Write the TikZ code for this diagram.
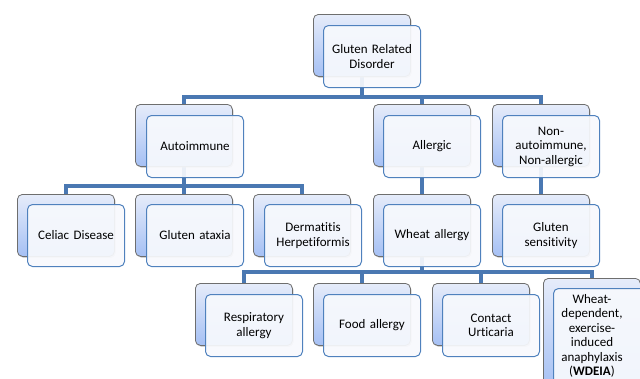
\documentclass[tikz,border=0pt]{standalone}
\usepackage{fontspec}
\setmainfont{Carlito}[Ligatures=NoCommon]
\usetikzlibrary{shadows,backgrounds}
\definecolor{connc}{HTML}{4A78B2}
\definecolor{frontb}{HTML}{4F81BD}
\definecolor{frontf}{HTML}{F7F9FD}
\definecolor{backb}{HTML}{6E6E6E}
\definecolor{backtop}{HTML}{E6ECFA}
\definecolor{backbot}{HTML}{A5C0F4}
\tikzset{
  backbox/.style={draw=backb, line width=0.8pt, rounded corners=5pt,
    top color=backtop, bottom color=backbot,
    minimum width=97pt, minimum height=62pt, anchor=north west, inner sep=0pt,
    drop shadow={shadow xshift=1.2pt, shadow yshift=-1.5pt, opacity=0.35}},
  frontbox/.style={draw=frontb, line width=1pt, rounded corners=5pt,
    fill=frontf, fill opacity=0.93, text opacity=1,
    minimum width=97pt, minimum height=62pt, anchor=north west, inner sep=0pt,
    align=center, text width=94pt, font=\fontsize{13}{14.5}\selectfont},
  conn/.style={draw=connc, line width=4pt},
}
\begin{document}
\begin{tikzpicture}[x=1pt,y=-1pt]
\useasboundingbox (0,0) rectangle (640,378);
\clip (0,0) rectangle (640,378);
\coordinate (b1) at (0,97);
\coordinate (b2) at (0,186);
\coordinate (b3) at (0,272);
% level 0
\node[backbox] (gb) at (313,14) {};
\node[frontbox] (g) at (323,25) {Gluten Related\\Disorder};
% level 1
\node[backbox] (ab) at (135,104) {};
\node[frontbox] (a) at (146,115) {Autoimmune};
\node[backbox] (alb) at (373,104) {};
\node[frontbox] (al) at (383,115) {Allergic};
\node[backbox] (nb) at (492,104) {};
\node[frontbox] (n) at (502,115) {Non-\\autoimmune,\\Non-allergic};
% level 2
\node[backbox] (cb) at (17,194) {};
\node[frontbox] (c) at (27,204) {Celiac Disease};
\node[backbox] (tb) at (135,194) {};
\node[frontbox] (t) at (146,204) {Gluten ataxia};
\node[backbox] (db) at (253,194) {};
\node[frontbox] (d) at (264,204) {Dermatitis\\Herpetiformis};
\node[backbox] (wb) at (373,194) {};
\node[frontbox] (w) at (383,204) {Wheat allergy};
\node[backbox] (sb) at (492,194) {};
\node[frontbox] (s) at (502,204) {Gluten\\sensitivity};
% level 3
\node[backbox] (rb) at (195,283) {};
\node[frontbox] (r) at (205,294) {Respiratory\\allergy};
\node[backbox] (fb) at (313,283) {};
\node[frontbox] (f) at (323,294) {Food allergy};
\node[backbox] (ub) at (432,283) {};
\node[frontbox] (u) at (442,294) {Contact\\Urticaria};
\node[backbox, minimum height=110pt] (xb) at (543,278) {};
\node[frontbox, minimum height=110pt] (x) at (553,288) {};
\node[align=center, font=\fontsize{13}{14.4}\selectfont, anchor=north] (xt) at (592,291)
  {Wheat-\\dependent,\\exercise-\\induced\\anaphylaxis\\(\textbf{WDEIA})};
% connectors
\begin{scope}[on background layer]
\draw[conn] (gb.south) -- (gb.south |- b1) -| (ab.north);
\draw[conn] (gb.south) -- (gb.south |- b1) -| (alb.north);
\draw[conn] (gb.south) -- (gb.south |- b1) -| (nb.north);
\draw[conn] (ab.south) -- (ab.south |- b2) -| (cb.north);
\draw[conn] (ab.south) -- (tb.north);
\draw[conn] (ab.south) -- (ab.south |- b2) -| (db.north);
\draw[conn] (alb.south) -- (wb.north);
\draw[conn] (nb.south) -- (sb.north);
\draw[conn] (wb.south) -- (wb.south |- b3) -| (rb.north);
\draw[conn] (wb.south) -- (wb.south |- b3) -| (fb.north);
\draw[conn] (wb.south) -- (wb.south |- b3) -| (ub.north);
\draw[conn] (wb.south) -- (wb.south |- b3) -| (xb.north);
\end{scope}
\end{tikzpicture}
\end{document}
